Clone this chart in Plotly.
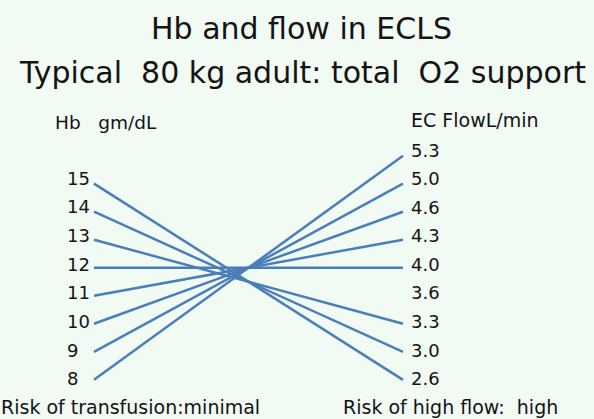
import plotly.graph_objects as go

# ---- data ----
hb_values = [15, 14, 13, 12, 11, 10, 9, 8]
flow_labels = ["5.3", "5.0", "4.6", "4.3", "4.0", "3.6", "3.3", "3.0", "2.6"]
# flow each Hb line runs to (same order as hb_values)
hb_to_flow = ["2.6", "3.0", "3.3", "4.0", "4.3", "4.6", "5.0", "5.3"]

title_line1 = "Hb and flow in ECLS"
title_line2 = "Typical  80 kg adult: total  O2 support"
left_header = "Hb   gm/dL"
right_header = "EC FlowL/min"
left_footer = "Risk of transfusion:minimal"
right_footer = "Risk of high flow:  high"

W, H = 594, 419
BG = "#F1FAF3"
LINE = "#4A7EBB"
TXT = "#141414"
FONT = "'DejaVu Sans', sans-serif"


def flow_pos(label):
    # right-hand scale: evenly spaced slots, 4.0 level with Hb 12
    return 16 - flow_labels.index(label)


fig = go.Figure()
xs, ys = [], []
for h, f in zip(hb_values, hb_to_flow):
    xs += [0, 1, None]
    ys += [h, flow_pos(f), None]
fig.add_trace(go.Scatter(x=xs, y=ys, mode="lines",
                         line=dict(color=LINE, width=2.5),
                         hoverinfo="skip", showlegend=False))

ann = []
for h in hb_values:
    ann.append(dict(x=65 / W, xref="paper", y=h, yref="y2", text=str(h),
                    xanchor="left", yanchor="middle", showarrow=False,
                    font=dict(size=18, color=TXT, family=FONT)))
for lab in flow_labels:
    ann.append(dict(x=409 / W, xref="paper", y=flow_pos(lab), yref="y3", text=lab,
                    xanchor="left", yanchor="middle", showarrow=False,
                    font=dict(size=18, color=TXT, family=FONT)))


def txt(text, px, py, size, anchor="left"):
    return dict(x=px / W, y=1 - py / H, xref="paper", yref="paper", text=text,
                xanchor=anchor, yanchor="middle", showarrow=False,
                font=dict(size=size, color=TXT, family=FONT))


ann.append(txt(title_line1, 301, 29, 30, "center"))
ann.append(txt(title_line2, 302, 73, 30, "center"))
ann.append(txt(left_header, 53, 122, 18.5))
ann.append(txt(right_header, 409, 120, 19))
ann.append(txt(left_footer, -1, 407, 19))
ann.append(txt(right_footer, 341, 407, 19))

fig.update_layout(
    width=W, height=H,
    margin=dict(l=0, r=0, t=0, b=0),
    paper_bgcolor=BG, plot_bgcolor=BG,
    xaxis=dict(range=[-94 / 309, (W - 94) / 309], visible=False, fixedrange=True),
    yaxis=dict(range=[6.602, 21.555], visible=False, fixedrange=True),
    yaxis2=dict(range=[6.603, 21.202], overlaying="y", visible=False),
    yaxis3=dict(range=[6.594, 21.245], overlaying="y", visible=False),
    annotations=ann,
    showlegend=False,
)

fig.write_html("out.html", config={"displayModeBar": False},
               post_script="document.body.style.margin='0';document.body.style.overflow='hidden';")
